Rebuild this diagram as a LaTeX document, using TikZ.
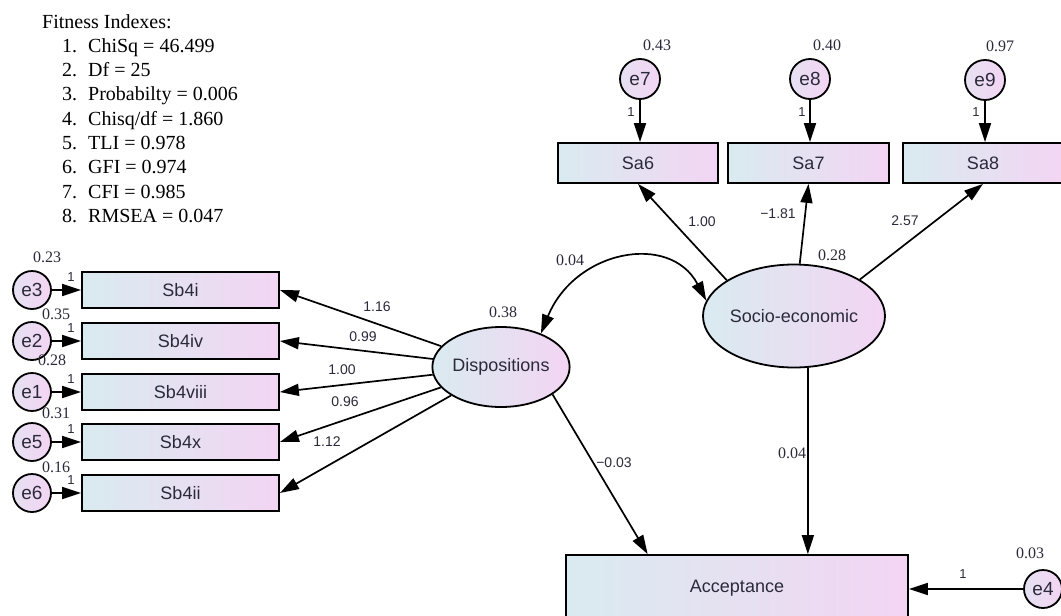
\documentclass[tikz,border=0pt]{standalone}
\usepackage{fontspec}
\setmainfont{Liberation Serif}
\newfontfamily\arialf{Liberation Sans}
\usetikzlibrary{arrows.meta,shapes.geometric,calc}
\definecolor{shadeL}{HTML}{D9EBF0}
\definecolor{shadeR}{HTML}{F3D5F3}
\definecolor{ink}{HTML}{2B2A3A}

\begin{document}
\begin{tikzpicture}[x=1pt,y=-1pt,
  obs/.style={rectangle, draw=black, line width=1.8pt, left color=shadeL, right color=shadeR,
    text=ink, font=\arialf\fontsize{18}{20}\selectfont, inner sep=0pt},
  err/.style={circle, draw=black, line width=1.8pt, left color=shadeL!50!shadeR, right color=shadeR,
    minimum size=38pt, inner sep=0pt, text=ink, font=\arialf\fontsize{19}{20}\selectfont},
  lat/.style={ellipse, draw=black, line width=1.8pt, left color=shadeL, right color=shadeR,
    inner sep=0pt, text=ink, font=\arialf\fontsize{18}{20}\selectfont},
  tipA/.tip={Triangle[length=19pt,width=12pt]},
  arr/.style={line width=1.7pt, -tipA},
  cov/.style={line width=1.7pt, tipA-tipA},
  var/.style={font=\fontsize{16}{18}\selectfont, text=ink, inner sep=0pt},
  wt/.style={font=\arialf\fontsize{14}{16}\selectfont, text=ink, inner sep=0pt},
  one/.style={font=\arialf\fontsize{13}{14}\selectfont, text=ink, inner sep=0pt},
  fit/.style={font=\fontsize{20}{22}\selectfont, anchor=base west, inner sep=0pt},
]
\useasboundingbox (0,0) rectangle (1061,616);
\clip (0,0) rectangle (1061,616);
\fill[white] (0,0) rectangle (1061,616);

% ---- fit statistics ----
\node[fit] (fitT) at (42,28) {Fitness Indexes:};
\foreach \k/\txt [evaluate=\k as \yy using 28+24.3*\k] in
  {1/{ChiSq = 46.499}, 2/{Df = 25}, 3/{Probabilty = 0.006}, 4/{Chisq/df = 1.860},
   5/{TLI = 0.978}, 6/{GFI = 0.974}, 7/{CFI = 0.985}, 8/{RMSEA = 0.047}}{
  \node[fit] (fitN\k) at (62,\yy) {\k.};
  \node[fit] (fitV\k) at (88,\yy) {\txt};
}

% ---- Dispositions indicators ----
\node[obs, minimum width=197pt, minimum height=36pt] (sb4i)    at (180.5,290) {Sb4i};
\node[obs, minimum width=197pt, minimum height=36pt] (sb4iv)   at (180.5,341) {Sb4iv};
\node[obs, minimum width=197pt, minimum height=36pt] (sb4viii) at (180.5,392) {Sb4viii};
\node[obs, minimum width=197pt, minimum height=36pt] (sb4x)    at (180.5,442) {Sb4x};
\node[obs, minimum width=197pt, minimum height=36pt] (sb4ii)   at (180.5,493) {Sb4ii};

\node[err] (e3) at (32,290) {e3};
\node[err] (e2) at (32,341) {e2};
\node[err] (e1) at (32,392) {e1};
\node[err] (e5) at (32,442) {e5};
\node[err] (e6) at (32,493) {e6};

\draw[arr] (e3) -- (sb4i);
\draw[arr] (e2) -- (sb4iv);
\draw[arr] (e1) -- (sb4viii);
\draw[arr] (e5) -- (sb4x);
\draw[arr] (e6) -- (sb4ii);

\node[one] (o3) at (71,277) {1};
\node[one] (o2) at (71,328) {1};
\node[one] (o1) at (71,379) {1};
\node[one] (o5) at (71,429) {1};
\node[one] (o6) at (71,480) {1};

\node[var] (v3) at (47,257) {0.23};
\node[var] (v2) at (56,314) {0.35};
\node[var] (v1) at (52,360) {0.28};
\node[var] (v5) at (56,413) {0.31};
\node[var] (v6) at (56,467) {0.16};

% ---- latent variables ----
\node[lat, minimum width=133pt, minimum height=80pt] (disp) at (501,367) {Dispositions};
\node[lat, minimum width=182pt, minimum height=103pt] (socio) at (794,316) {Socio-economic};
\node[var] (vdisp) at (503,312) {0.38};
\node[var] (vsocio) at (832,255) {0.28};

\draw[arr] (disp) -- (sb4i.east);
\draw[arr] (disp) -- (sb4iv.east);
\draw[arr] (disp) -- (sb4viii.east);
\draw[arr] (disp) -- (sb4x.east);
\draw[arr] (disp) -- (sb4ii.east);

\node[wt] (w1) at (377,307) {1.16};
\node[wt] (w2) at (363,337) {0.99};
\node[wt] (w3) at (342,370) {1.00};
\node[wt] (w4) at (345,402) {0.96};
\node[wt] (w5) at (327,442) {1.12};

% ---- Socio-economic indicators ----
\node[obs, minimum width=160pt, minimum height=40pt] (sa6) at (638,163) {Sa6};
\node[obs, minimum width=161pt, minimum height=40pt] (sa7) at (808.5,163) {Sa7};
\node[obs, minimum width=160pt, minimum height=40pt] (sa8) at (983,163) {Sa8};

\node[err, minimum size=40pt] (e7) at (640,79) {e7};
\node[err, minimum size=40pt] (e8) at (810,79) {e8};
\node[err, minimum size=40pt] (e9) at (985,80) {e9};

\draw[arr] (e7) -- (e7 |- sa6.north);
\draw[arr] (e8) -- (e8 |- sa7.north);
\draw[arr] (e9) -- (e9 |- sa8.north);

\node[one] (o7) at (631,112) {1};
\node[one] (o8) at (802,112) {1};
\node[one] (o9) at (976,112) {1};

\node[var] (v7) at (657,45) {0.43};
\node[var] (v8) at (827,45) {0.40};
\node[var] (v9) at (1000,46) {0.97};

\draw[arr] (socio.152) -- (sa6.south);
\draw[arr] (socio) -- (sa7.south);
\draw[arr] (socio.29) -- (sa8.south);

\node[wt] (w6) at (702,222) {1.00};
\node[wt] (w7) at (778,214) {−1.81};
\node[wt] (w8) at (905,221) {2.57};

% ---- covariance ----
\draw[cov] (disp.40) .. controls (575,250) and (670,232) .. (socio.170);
\node[var] (vcov) at (570,260) {0.04};

% ---- outcome ----
\node[obs, minimum width=342pt, minimum height=66pt] (acc) at (737,588) {Acceptance};
\node[err] (e4) at (1043,589) {e4};

\draw[arr] (disp.-28) -- ($(acc.north west)!0.24!(acc.north east)$);
\draw[arr] (socio.-75) -- (socio.-75 |- acc.north);
\draw[arr] (e4) -- (e4 -| acc.east);

\node[wt] (w9) at (614,463) {−0.03};
\node[var] (w10) at (792,453) {0.04};
\node[one] (o4) at (963,574) {1};
\node[var] (v4) at (1030,553) {0.03};
\end{tikzpicture}
\end{document}
